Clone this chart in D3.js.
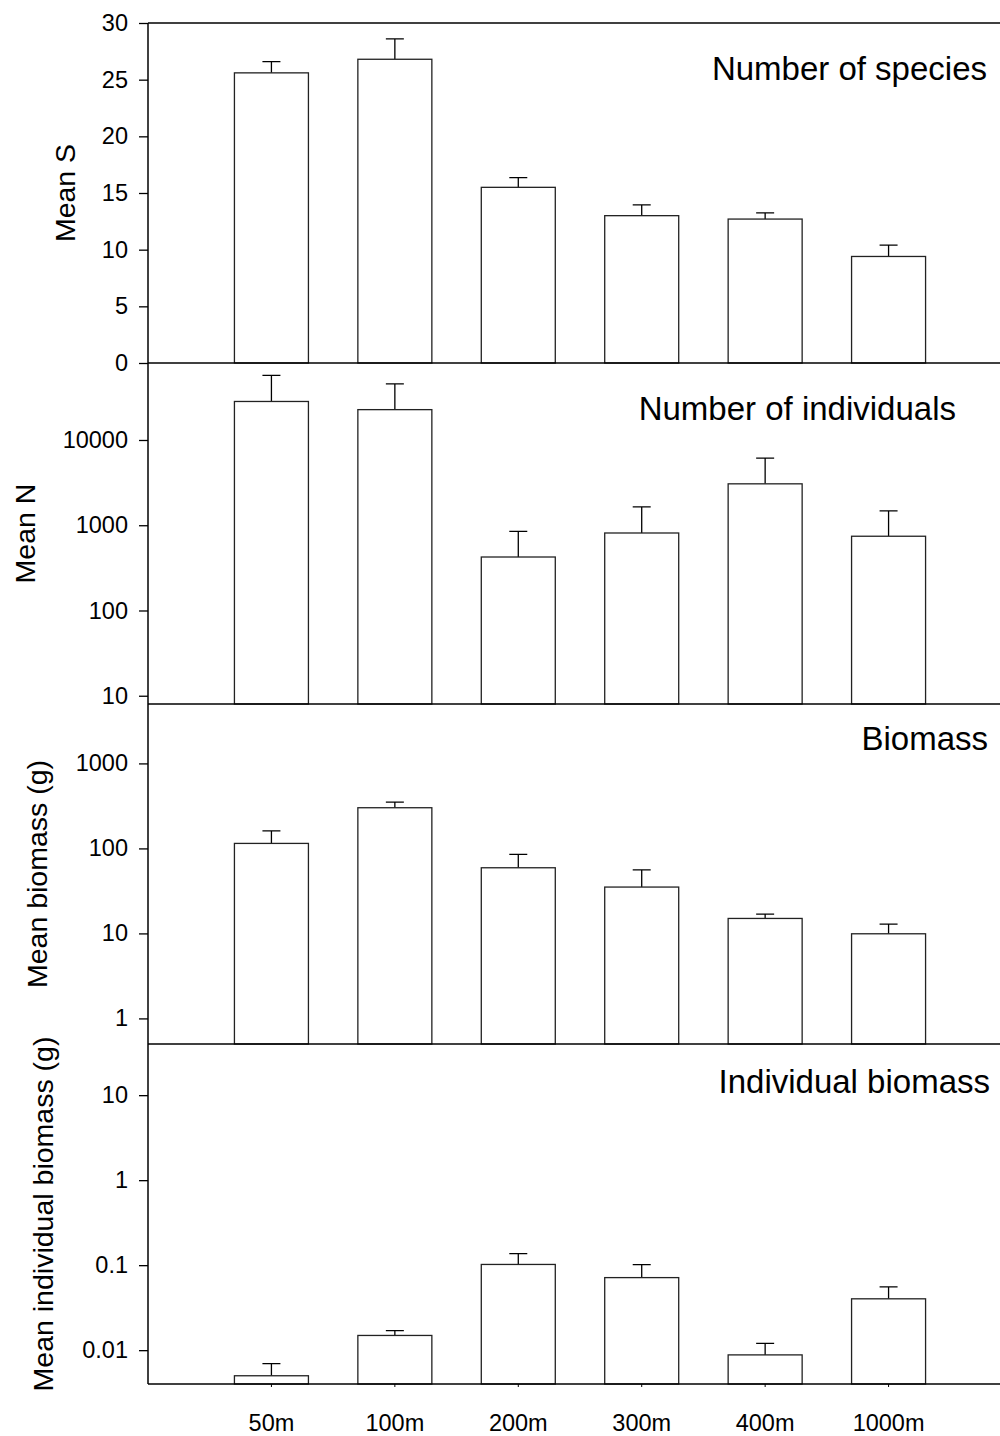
<!DOCTYPE html>
<html>
<head>
<meta charset="utf-8">
<script src="https://cdn.jsdelivr.net/npm/d3@7"></script>
<style>
  body { margin: 0; background: #fff; }
  svg text { font-family: "Liberation Sans", Arial, sans-serif; fill: #000; }
</style>
</head>
<body>
<div class="chart"></div>
<script>
'use strict'

// depth categories
const depths = ['50m', '100m', '200m', '300m', '400m', '1000m']

// number of species (mean, SE)
const speciesMean = [25.6, 26.8, 15.5, 13.0, 12.7, 9.4]
const speciesErr  = [1.0, 1.8, 0.85, 0.95, 0.55, 1.0]

// number of individuals (mean, SE)
const indivMean = [28300, 22700, 424, 811, 3060, 743]
const indivErr  = [28900, 22900, 425, 830, 3080, 727]

// biomass in g (mean, SE)
const biomassMean = [114.5, 301, 59.2, 35.1, 15.0, 9.9]
const biomassErr  = [46.5, 50, 25.8, 20.9, 1.9, 2.95]

// individual biomass in g (mean, SE)
const indBioMean = [0.0050, 0.0149, 0.102, 0.0714, 0.0088, 0.0402]
const indBioErr  = [0.00195, 0.0021, 0.035, 0.0303, 0.0032, 0.0154]

// tick values per panel
const speciesTicks = [0, 5, 10, 15, 20, 25, 30]
const indivTicks   = [10, 100, 1000, 10000]
const biomassTicks = [1, 10, 100, 1000]
const indBioTicks  = [0.01, 0.1, 1, 10]

const width = 1000
const height = 1436
const left = 148

const svg = d3.select('.chart').append('svg')
    .attr('width', width)
    .attr('height', height)

const x = d3.scaleLinear()
    .domain([0, 7])
    .range([left, 1012])
const barW = 74

const panels = [
    { top: 23,   bottom: 363,  scale: d3.scaleLinear().domain([0, 30]),
      mean: speciesMean, err: speciesErr, ticks: speciesTicks,
      ylabel: 'Mean S', labelX: 75, title: 'Number of species', titleX: 987, titleY: 80 }
  , { top: 363,  bottom: 704,  scale: d3.scaleLog().domain([8, 80000]),
      mean: indivMean, err: indivErr, ticks: indivTicks,
      ylabel: 'Mean N', labelX: 35, title: 'Number of individuals', titleX: 956, titleY: 420 }
  , { top: 704,  bottom: 1044, scale: d3.scaleLog().domain([0.5, 5000]),
      mean: biomassMean, err: biomassErr, ticks: biomassTicks,
      ylabel: 'Mean biomass (g)', labelX: 47, title: 'Biomass', titleX: 988, titleY: 750 }
  , { top: 1044, bottom: 1384, scale: d3.scaleLog().domain([0.004, 40]),
      mean: indBioMean, err: indBioErr, ticks: indBioTicks,
      ylabel: 'Mean individual biomass (g)', labelX: 53, title: 'Individual biomass', titleX: 990, titleY: 1093 }
]

panels.forEach(function(p, pi) {
  const y = p.scale.range([p.bottom, p.top])
  const g = svg.append('g')

  const rows = depths.map((d, i) => ({ name: d, i: i + 1, mean: p.mean[i], err: p.err[i] }))

  // error bars (upper only)
  g.selectAll('.err')
      .data(rows)
    .enter().append('path')
      .attr('d', d => 'M' + x(d.i) + ',' + y(d.mean) + 'V' + y(d.mean + d.err)
          + 'M' + (x(d.i) - 9) + ',' + y(d.mean + d.err) + 'H' + (x(d.i) + 9))
      .style('fill', 'none')
      .style('stroke', '#000')
      .style('stroke-width', 1.3)

  // bars
  g.selectAll('.bar')
      .data(rows)
    .enter().append('rect')
      .attr('x', d => x(d.i) - barW / 2)
      .attr('y', d => y(d.mean))
      .attr('width', barW)
      .attr('height', d => p.bottom - y(d.mean))
      .style('fill', '#fff')
      .style('stroke', '#222')
      .style('stroke-width', 1.3)

  // y axis
  const ax = g.append('g')
      .attr('transform', 'translate(' + left + ',0)')
      .call(d3.axisLeft(y)
        .tickValues(p.ticks)
        .tickFormat(d3.format('~g'))
        .tickSize(9)
        .tickSizeOuter(0)
        .tickPadding(11))
  ax.select('.domain').remove()
  ax.selectAll('line').style('stroke', '#000').style('stroke-width', 1.3)
  ax.selectAll('text')
      .style('font-size', '23.5px')
      .style('font-family', '"Liberation Sans", Arial, sans-serif')
      .attr('fill', '#000')

  // frame lines
  g.append('line')
      .attr('x1', left).attr('x2', width)
      .attr('y1', p.top).attr('y2', p.top)
      .style('stroke', '#000').style('stroke-width', 1.5)
  g.append('line')
      .attr('x1', left).attr('x2', left)
      .attr('y1', p.top).attr('y2', p.bottom)
      .style('stroke', '#000').style('stroke-width', 1.5)

  // y axis title
  g.append('text')
      .attr('transform', 'translate(' + p.labelX + ',' + (p.top + p.bottom) / 2 + ') rotate(-90)')
      .attr('text-anchor', 'middle')
      .style('font-size', '28.5px')
      .text(p.ylabel)

  // panel title
  g.append('text')
      .attr('x', p.titleX)
      .attr('y', p.titleY)
      .attr('text-anchor', 'end')
      .style('font-size', '33px')
      .text(p.title)

  if (pi === panels.length - 1) {
    g.append('line')
        .attr('x1', left).attr('x2', width)
        .attr('y1', p.bottom).attr('y2', p.bottom)
        .style('stroke', '#000').style('stroke-width', 1.5)

    g.selectAll('.xtick')
        .data(rows)
      .enter().append('line')
        .attr('x1', d => x(d.i)).attr('x2', d => x(d.i))
        .attr('y1', p.bottom).attr('y2', p.bottom + 3)
        .style('stroke', '#000').style('stroke-width', 1)

    g.selectAll('.xlabel')
        .data(rows)
      .enter().append('text')
        .attr('x', d => x(d.i))
        .attr('y', 1431)
        .attr('text-anchor', 'middle')
        .style('font-size', '23.5px')
        .text(d => d.name)
  }
})
</script>
</body>
</html>
